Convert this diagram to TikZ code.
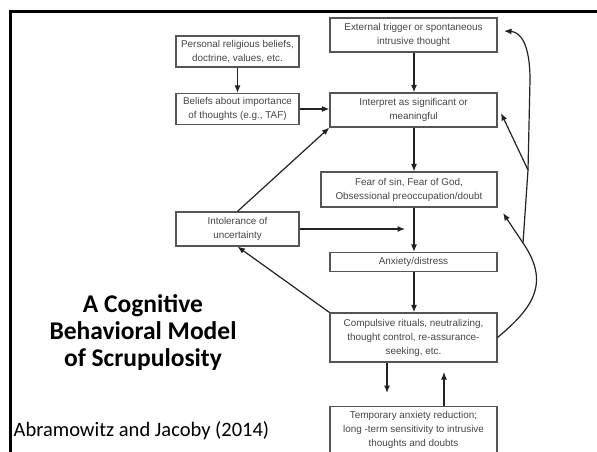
\documentclass[tikz,border=0pt]{standalone}
\usepackage{fontspec}
\setmainfont{Liberation Sans}
\newfontfamily\calibri{Carlito}
\usetikzlibrary{arrows.meta}
\definecolor{boxline}{HTML}{555555}
\definecolor{boxtext}{HTML}{454545}
\definecolor{arrowcol}{HTML}{222222}
\tikzset{
  flowbox/.style={draw=boxline, line width=1.2pt, text=boxtext, align=center, inner sep=0pt,
    font=\fontsize{9.9}{14}\selectfont},
  flowarrow/.style={draw=arrowcol, line width=1.2pt, -{Latex[length=7.5pt,width=6pt]}},
  flowline/.style={draw=arrowcol, line width=1.2pt}
}
\begin{document}
\begin{tikzpicture}[x=1pt,y=-1pt]
\useasboundingbox (0,0) rectangle (597,452);
\clip (0,0) rectangle (597,452);
% slide frame
\draw[line width=3pt, black] (10.3,452) -- (10.3,11.3) -- (597,11.3);

% boxes
\node[flowbox, minimum width=167pt, minimum height=34pt] (ext) at (413.5,35) {External trigger or spontaneous\\intrusive thought};
\node[flowbox, minimum width=167pt, minimum height=34pt] (interp) at (413.5,110) {Interpret as significant or\\meaningful};
\node[flowbox, minimum width=176pt, minimum height=35pt] (fear) at (409,189.5) {Fear of sin, Fear of God,\\Obsessional preoccupation/doubt};
\node[flowbox, minimum width=167pt, minimum height=19pt] (anx) at (413.5,262) {Anxiety/distress};
\node[flowbox, minimum width=167pt, minimum height=49pt] (comp) at (413.5,337.5) {Compulsive rituals, neutralizing,\\thought control, re-assurance-\\seeking, etc.};
\node[flowbox, minimum width=167pt, minimum height=62pt, anchor=north] (temp) at (413.5,406) {Temporary anxiety reduction;\\long -term sensitivity to intrusive\\thoughts and doubts\\[4pt]};
\node[flowbox, minimum width=123pt, minimum height=31pt] (pers) at (237.5,51.5) {Personal religious beliefs,\\doctrine, values, etc.};
\node[flowbox, minimum width=123pt, minimum height=31pt] (beliefs) at (237.5,109) {Beliefs about importance\\of thoughts (e.g., TAF)};
\node[flowbox, minimum width=123pt, minimum height=34pt] (intol) at (237.5,229) {Intolerance of\\uncertainty};

% title and citation
\node[font=\calibri\bfseries\fontsize{25.5}{27}\selectfont, align=center, inner sep=0pt, anchor=base] (title) at (143,366) {A Cognitive\\Behavioral Model\\of Scrupulosity};
\node[anchor=base west, font=\calibri\fontsize{20.5}{24}\selectfont, inner sep=0pt] (cite) at (13.5,436) {Abramowitz and Jacoby (2014)};

% coordinates
\coordinate (spine) at (414,0);
\coordinate (intolTip) at (405,229);
\coordinate (downTip) at (387,393);
\coordinate (upTip) at (444,372);
\coordinate (b1) at (523,243);
\coordinate (b2) at (528,170);
\coordinate (fearTip) at (503,213);
\coordinate (interpTip) at (501,113);
\coordinate (extTip) at (504,31);

% main arrows
\draw[flowarrow] (pers.south) -- (beliefs.north);
\draw[flowarrow] (beliefs.east) -- (beliefs.east -| interp.west);
\draw[flowarrow] (intol.north) -- (interp.south west);
\draw[flowarrow] (intol.east) -- (intolTip);
\draw[flowarrow] (ext.south -| spine) -- (interp.north -| spine);
\draw[flowarrow] (interp.south -| spine) -- (fear.north -| spine);
\draw[flowarrow] (fear.south -| spine) -- (anx.north -| spine);
\draw[flowarrow] (anx.south -| spine) -- (comp.north -| spine);
\draw[flowarrow] (comp.north west) -- (intol.south);
\draw[flowarrow] (comp.south -| downTip) -- (downTip);
\draw[flowarrow] (temp.north -| upTip) -- (upTip);

% feedback loop on the right
\draw[flowline] (comp.east) .. controls (530,310) and (552,285) .. (b1) -- (b2) -- (530,80);
\draw[flowarrow] (530,80) .. controls (530,45) and (521,32) .. (extTip);
\draw[flowarrow] (b1) -- (fearTip);
\draw[flowarrow] (b2) -- (interpTip);
\end{tikzpicture}
\end{document}
